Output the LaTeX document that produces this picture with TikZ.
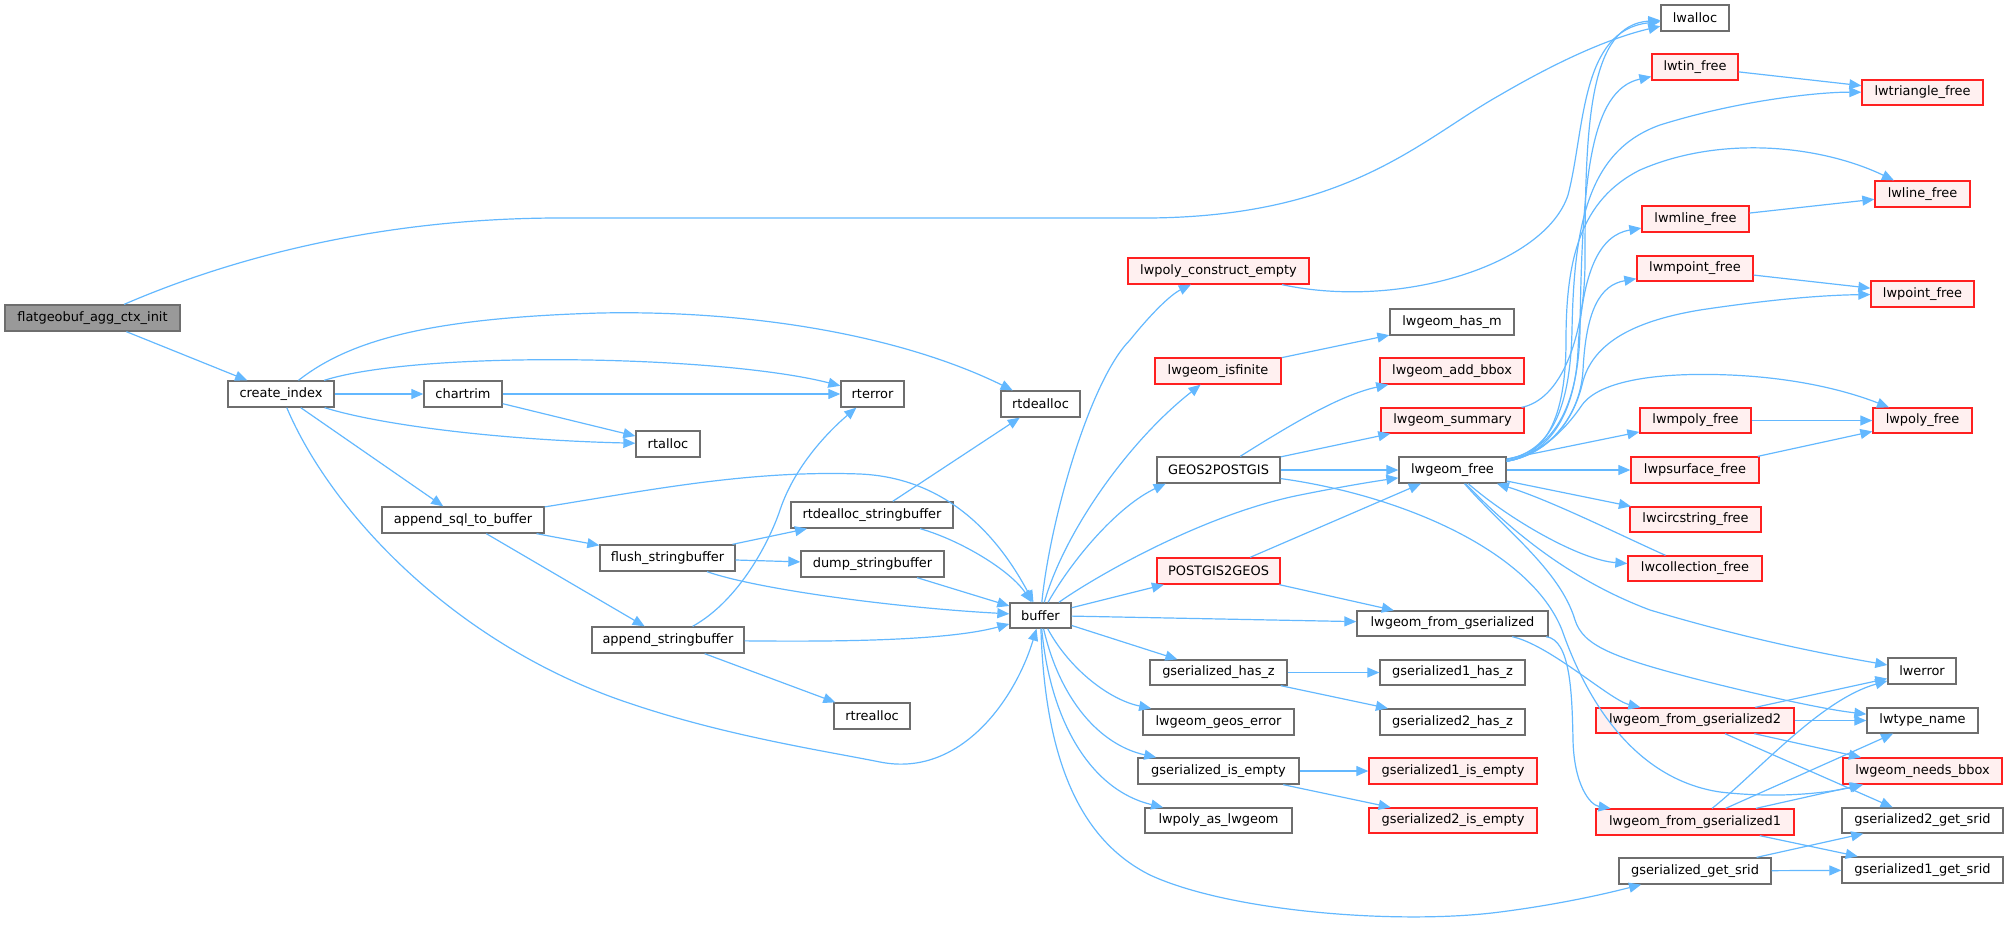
\documentclass[tikz,border=0pt]{standalone}
\usepackage{fontspec}
\setmainfont{DejaVu Sans}
\usetikzlibrary{arrows.meta}
\definecolor{edgeblue}{HTML}{63B8FF}
\definecolor{boxgray}{HTML}{6E6E6E}
\definecolor{rootfill}{HTML}{999999}
\definecolor{redfill}{HTML}{FFF0F0}
\definecolor{redline}{HTML}{FF2020}
\tikzset{
  nbox/.style={draw=boxgray, fill=white, line width=1pt, inner sep=0pt, font=\fontsize{9.7}{11}\selectfont},
  rbox/.style={nbox, draw=redline, fill=redfill},
  rootbox/.style={nbox, fill=rootfill},
  call/.style={draw=edgeblue, line width=0.9pt, -{Triangle[length=9pt,width=7.5pt]}},
}
\newcommand\gn[7]{\node[#1, minimum width={(#5-#3)*0.75pt}, minimum height={(#6-#4)*0.75pt}] (#2) at ({(#3+#5)/2},{(#4+#6)/2}) {#7};}
\begin{document}
\begin{tikzpicture}[x=0.75pt,y=-0.75pt]
\useasboundingbox (0,0) rectangle (2008,925);
% nodes
\gn{rootbox}{root}{5}{305}{180}{331}{flatgeobuf\_agg\_ctx\_init}
\gn{nbox}{create_index}{228}{381}{334}{407}{create\_index}
\gn{nbox}{chartrim}{424}{381}{502}{407}{chartrim}
\gn{nbox}{rterror}{841}{381}{904}{407}{rterror}
\gn{nbox}{rtdealloc}{1001}{391}{1080}{417}{rtdealloc}
\gn{nbox}{rtalloc}{636}{431}{700}{457}{rtalloc}
\gn{nbox}{append_sql}{382}{507}{544}{533}{append\_sql\_to\_buffer}
\gn{nbox}{flush}{600}{545}{735}{571}{flush\_stringbuffer}
\gn{nbox}{rtdealloc_sb}{791}{502}{953}{528}{rtdealloc\_stringbuffer}
\gn{nbox}{dump}{801}{551}{944}{577}{dump\_stringbuffer}
\gn{nbox}{append_sb}{592}{627}{744}{653}{append\_stringbuffer}
\gn{nbox}{rtrealloc}{834}{703}{910}{729}{rtrealloc}
\gn{nbox}{buffer}{1010}{603}{1071}{628}{buffer}
\gn{rbox}{lwpoly_ce}{1128}{258}{1309}{284}{lwpoly\_construct\_empty}
\gn{rbox}{isfinite}{1155}{358}{1281}{384}{lwgeom\_isfinite}
\gn{nbox}{GEOS}{1157}{457}{1280}{483}{GEOS2POSTGIS}
\gn{rbox}{PG2GEOS}{1157}{558}{1280}{584}{POSTGIS2GEOS}
\gn{nbox}{has_z}{1150}{660}{1287}{685}{gserialized\_has\_z}
\gn{nbox}{geos_error}{1143}{709}{1294}{735}{lwgeom\_geos\_error}
\gn{nbox}{is_empty}{1138}{758}{1299}{784}{gserialized\_is\_empty}
\gn{nbox}{as_lwgeom}{1145}{808}{1292}{833}{lwpoly\_as\_lwgeom}
\gn{nbox}{has_m}{1390}{309}{1514}{335}{lwgeom\_has\_m}
\gn{rbox}{add_bbox}{1380}{358}{1524}{384}{lwgeom\_add\_bbox}
\gn{rbox}{summary}{1381}{408}{1524}{433}{lwgeom\_summary}
\gn{nbox}{lwgeom_free}{1399}{457}{1506}{483}{lwgeom\_free}
\gn{nbox}{lwgeom_fg}{1357}{611}{1548}{636}{lwgeom\_from\_gserialized}
\gn{nbox}{g1_has_z}{1380}{660}{1525}{685}{gserialized1\_has\_z}
\gn{nbox}{g2_has_z}{1380}{709}{1525}{735}{gserialized2\_has\_z}
\gn{rbox}{g1_is_empty}{1369}{758}{1537}{784}{gserialized1\_is\_empty}
\gn{rbox}{g2_is_empty}{1369}{808}{1537}{833}{gserialized2\_is\_empty}
\gn{nbox}{get_srid}{1619}{858}{1771}{884}{gserialized\_get\_srid}
\gn{nbox}{lwalloc}{1661}{5}{1729}{31}{lwalloc}
\gn{rbox}{lwtin}{1652}{54}{1738}{80}{lwtin\_free}
\gn{rbox}{lwmline}{1642}{206}{1749}{232}{lwmline\_free}
\gn{rbox}{lwmpoint}{1637}{256}{1753}{281}{lwmpoint\_free}
\gn{rbox}{lwmpoly}{1640}{408}{1751}{433}{lwmpoly\_free}
\gn{rbox}{lwpsurface}{1631}{457}{1759}{483}{lwpsurface\_free}
\gn{rbox}{lwcircstring}{1630}{507}{1761}{532}{lwcircstring\_free}
\gn{rbox}{lwcollection}{1628}{556}{1762}{581}{lwcollection\_free}
\gn{rbox}{fg2}{1596}{708}{1794}{733}{lwgeom\_from\_gserialized2}
\gn{rbox}{fg1}{1596}{809}{1794}{835}{lwgeom\_from\_gserialized1}
\gn{rbox}{lwtriangle}{1862}{80}{1983}{105}{lwtriangle\_free}
\gn{rbox}{lwline}{1875}{181}{1970}{207}{lwline\_free}
\gn{rbox}{lwpoint}{1871}{281}{1974}{307}{lwpoint\_free}
\gn{rbox}{lwpoly}{1873}{408}{1972}{433}{lwpoly\_free}
\gn{nbox}{lwerror}{1888}{658}{1956}{684}{lwerror}
\gn{nbox}{lwtype_name}{1867}{708}{1978}{733}{lwtype\_name}
\gn{rbox}{needs_bbox}{1843}{758}{2002}{784}{lwgeom\_needs\_bbox}
\gn{nbox}{g2_get_srid}{1842}{808}{2003}{833}{gserialized2\_get\_srid}
\gn{nbox}{g1_get_srid}{1842}{857}{2003}{883}{gserialized1\_get\_srid}
% edges: root and create_index
\draw[call] (root) .. controls (250,250) and (400,218) .. (560,218) -- (1150,218) .. controls (1350,216) and (1420,140) .. (1500,95) .. controls (1560,60) and (1610,38) .. (lwalloc);
\draw[call] (root) -- (create_index);
\draw[call] (create_index) -- (chartrim);
\draw[call] (create_index) .. controls (420,350) and (720,355) .. (rterror);
\draw[call] (create_index) .. controls (350,340) and (430,318) .. (600,313) .. controls (750,310) and (900,335) .. (rtdealloc);
\draw[call] (create_index) .. controls (380,425) and (500,440) .. (rtalloc);
\draw[call] (create_index) -- (append_sql);
\draw[call] (create_index) .. controls (330,510) and (450,640) .. (620,700) .. controls (720,735) and (820,750) .. (880,762) .. controls (960,778) and (1015,700) .. (buffer);
\draw[call] (chartrim) -- (rterror);
\draw[call] (chartrim) -- (rtalloc);
% string buffer helpers
\draw[call] (append_sql) .. controls (650,490) and (750,470) .. (860,474) .. controls (950,478) and (1000,540) .. (buffer);
\draw[call] (append_sql) -- (flush);
\draw[call] (append_sql) -- (append_sb);
\draw[call] (flush) -- (rtdealloc_sb);
\draw[call] (flush) -- (dump);
\draw[call] (flush) .. controls (760,590) and (900,608) .. (buffer);
\draw[call] (rtdealloc_sb) -- (rtdealloc);
\draw[call] (rtdealloc_sb) .. controls (960,540) and (1010,570) .. (buffer);
\draw[call] (dump) -- (buffer);
\draw[call] (append_sb) .. controls (740,600) and (770,540) .. (780,510) .. controls (795,465) and (830,430) .. (rterror);
\draw[call] (append_sb) .. controls (850,642) and (950,640) .. (buffer);
\draw[call] (append_sb) -- (rtrealloc);
% buffer fan
\draw[call] (buffer) .. controls (1050,520) and (1090,380) .. (1130,340) .. controls (1150,315) and (1170,295) .. (lwpoly_ce);
\draw[call] (buffer) .. controls (1065,530) and (1130,440) .. (isfinite);
\draw[call] (buffer) .. controls (1075,555) and (1120,505) .. ([xshift=7pt]GEOS.south west);
\draw[call] (buffer) .. controls (1090,580) and (1200,515) .. (1300,495) .. controls (1340,487) and (1370,482) .. (lwgeom_free);
\draw[call] (buffer) -- (PG2GEOS);
\draw[call] (buffer) -- (lwgeom_fg);
\draw[call] (buffer) -- (has_z);
\draw[call] (buffer) .. controls (1070,670) and (1110,700) .. (geos_error);
\draw[call] (buffer) .. controls (1060,700) and (1100,745) .. (is_empty);
\draw[call] (buffer) .. controls (1050,720) and (1090,790) .. (as_lwgeom);
\draw[call] (buffer) .. controls (1045,760) and (1080,840) .. (1150,875) .. controls (1230,912) and (1400,925) .. (1500,912) .. controls (1570,903) and (1620,890) .. (get_srid);
% third level
\draw[call] (lwpoly_ce) .. controls (1400,310) and (1545,265) .. (1568,195) .. controls (1585,130) and (1580,30) .. (lwalloc);
\draw[call] (summary) .. controls (1560,400) and (1585,340) .. (1585,260) .. controls (1585,120) and (1590,25) .. (lwalloc);
\draw[call] (isfinite) -- (has_m);
\draw[call] (GEOS) .. controls (1290,425) and (1340,395) .. (add_bbox);
\draw[call] (GEOS) -- (summary);
\draw[call] (GEOS) -- (lwgeom_free);
\draw[call] (GEOS) .. controls (1400,495) and (1530,550) .. (1562,630) .. controls (1590,710) and (1640,780) .. (1720,792) .. controls (1790,800) and (1840,790) .. (needs_bbox);
\draw[call] (PG2GEOS) -- (lwgeom_free);
\draw[call] (PG2GEOS) -- (lwgeom_fg);
\draw[call] (has_z) -- (g1_has_z);
\draw[call] (has_z) -- (g2_has_z);
\draw[call] (is_empty) -- (g1_is_empty);
\draw[call] (is_empty) -- (g2_is_empty);
% lwgeom_free fan
\draw[call] (lwgeom_free) .. controls (1545,452) and (1578,420) .. (1580,330) .. controls (1582,180) and (1590,90) .. (lwtin);
\draw[call] (lwgeom_free) .. controls (1545,452) and (1570,420) .. (1572,330) .. controls (1574,220) and (1590,150) .. (1660,125) .. controls (1740,100) and (1820,92) .. (lwtriangle);
\draw[call] (lwgeom_free) .. controls (1545,455) and (1566,420) .. (1566,340) .. controls (1566,260) and (1580,200) .. (1640,170) .. controls (1720,135) and (1820,145) .. (lwline);
\draw[call] (lwgeom_free) .. controls (1545,455) and (1575,420) .. (1578,350) .. controls (1582,270) and (1600,235) .. (lwmline);
\draw[call] (lwgeom_free) .. controls (1545,455) and (1580,420) .. (1583,370) .. controls (1586,310) and (1600,285) .. (lwmpoint);
\draw[call] (lwgeom_free) .. controls (1545,455) and (1572,425) .. (1582,385) .. controls (1592,340) and (1640,320) .. (1700,310) .. controls (1780,298) and (1830,295) .. (lwpoint);
\draw[call] (lwgeom_free) .. controls (1540,455) and (1565,430) .. (1582,405) .. controls (1600,380) and (1660,372) .. (1730,375) .. controls (1800,378) and (1850,392) .. (lwpoly);
\draw[call] (lwgeom_free) -- (lwmpoly);
\draw[call] (lwgeom_free) -- (lwpsurface);
\draw[call] (lwgeom_free) -- (lwcircstring);
\draw[call] (lwgeom_free) .. controls (1510,520) and (1580,560) .. (lwcollection);
\draw[call] (lwcollection) .. controls (1620,535) and (1550,500) .. (lwgeom_free);
\draw[call] (lwgeom_free) .. controls (1510,530) and (1570,580) .. (1650,610) .. controls (1750,640) and (1830,655) .. (lwerror);
\draw[call] (lwgeom_free) .. controls (1505,530) and (1560,570) .. (1575,620) .. controls (1583,645) and (1610,657) .. (1700,680) .. controls (1780,700) and (1830,710) .. (lwtype_name);
\draw[call] (lwtin) -- (lwtriangle);
\draw[call] (lwmline) -- (lwline);
\draw[call] (lwmpoint) -- (lwpoint);
\draw[call] (lwmpoly) -- (lwpoly);
\draw[call] (lwpsurface) -- (lwpoly);
% gserialized
\draw[call] (lwgeom_fg) .. controls (1550,645) and (1610,700) .. (fg2);
\draw[call] (lwgeom_fg) .. controls (1570,640) and (1572,690) .. (1573,740) .. controls (1574,785) and (1590,805) .. (fg1);
\draw[call] (fg2) -- (lwerror);
\draw[call] (fg2) -- (lwtype_name);
\draw[call] (fg2) -- (needs_bbox);
\draw[call] (fg2) -- (g2_get_srid);
\draw[call] (fg1) .. controls (1760,770) and (1820,700) .. (lwerror);
\draw[call] (fg1) -- (lwtype_name);
\draw[call] (fg1) -- (needs_bbox);
\draw[call] (fg1) -- (g1_get_srid);
\draw[call] (get_srid) -- (g2_get_srid);
\draw[call] (get_srid) -- (g1_get_srid);
\end{tikzpicture}
\end{document}
